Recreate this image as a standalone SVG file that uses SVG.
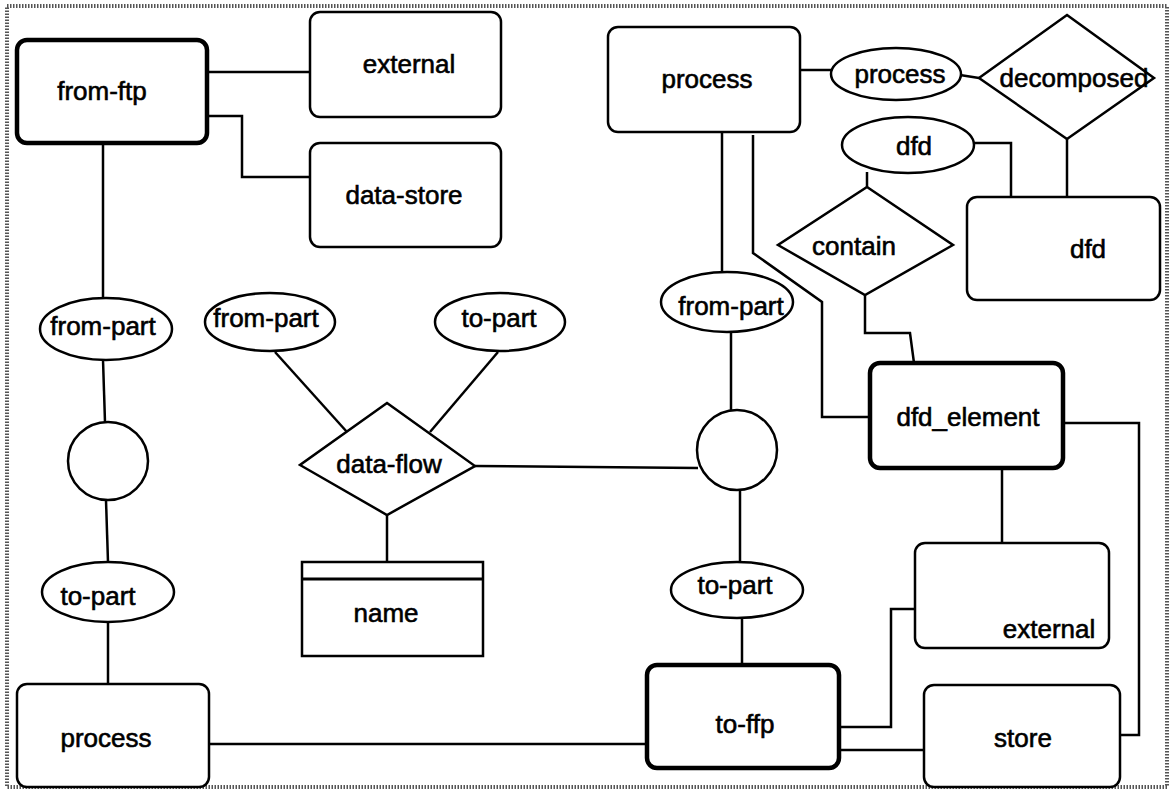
<svg xmlns="http://www.w3.org/2000/svg" width="1176" height="791" viewBox="0 0 1176 791">
<style>
.bg{fill:#fff}
.frame{fill:none;stroke:#555;stroke-width:4;stroke-dasharray:1.5 1.5}
.n{fill:#fff;stroke:#000;stroke-width:2.5}
.t{fill:#fff;stroke:#000;stroke-width:4.5}
.c{fill:none;stroke:#000;stroke-width:2.5}
text{font-family:"Liberation Sans",Arial,Helvetica,sans-serif;font-size:26px;fill:#000;stroke:#000;stroke-width:0.6;text-anchor:middle}
</style>
<rect class="bg" x="0" y="0" width="1176" height="791"/>
<rect class="frame" x="7" y="6" width="1160" height="781"/>
<g id="connectors">
<polyline class="c" points="207,72 310,72"/>
<polyline class="c" points="207,116 242,116 242,177 310,177"/>
<polyline class="c" points="103,143 103,298"/>
<polyline class="c" points="103,360 105,422"/>
<polyline class="c" points="106,500 108,562"/>
<polyline class="c" points="108,622 108,684"/>
<polyline class="c" points="209,744 647,744"/>
<polyline class="c" points="275,352 347,432"/>
<polyline class="c" points="498,352 430,432"/>
<polyline class="c" points="475,466 698,468"/>
<polyline class="c" points="387,515 387,562"/>
<polyline class="c" points="722,132 722,272"/>
<polyline class="c" points="731,332 731,410"/>
<polyline class="c" points="740,490 740,563"/>
<polyline class="c" points="742,618 742,665"/>
<polyline class="c" points="753,135 753,253 822,302 822,417 870,417"/>
<polyline class="c" points="800,70 831,70"/>
<polyline class="c" points="960,75 979,78"/>
<polyline class="c" points="1067,139 1067,197"/>
<polyline class="c" points="975,143 1011,143 1011,197"/>
<polyline class="c" points="867,172 867,187"/>
<polyline class="c" points="865,295 865,333 910,333 914,363"/>
<polyline class="c" points="1063,423 1139,423 1139,735 1120,735"/>
<polyline class="c" points="1002,468 1002,543"/>
<polyline class="c" points="839,727 891,727 891,609 915,609"/>
<polyline class="c" points="839,750 924,750"/>
</g>
<g id="from-ftp"><rect class="t" x="17" y="40" width="190" height="103" rx="10"/><text x="102" y="100">from-ftp</text></g>
<g id="external-top"><rect class="n" x="310" y="12" width="191" height="105" rx="10"/><text x="409" y="73">external</text></g>
<g id="data-store"><rect class="n" x="310" y="143" width="191" height="104" rx="10"/><text x="404" y="204">data-store</text></g>
<g id="process-top"><rect class="n" x="608" y="27" width="192" height="105" rx="10"/><text x="707" y="88">process</text></g>
<g id="process-attr"><ellipse class="n" cx="896" cy="74" rx="65" ry="26"/><text x="900" y="83">process</text></g>
<g id="decomposed"><polygon class="n" points="1067,15 1154,78 1067,139 979,78"/><text x="1074" y="87">decomposed</text></g>
<g id="dfd-attr"><ellipse class="n" cx="908" cy="145" rx="66" ry="28"/><text x="914" y="155">dfd</text></g>
<g id="contain"><polygon class="n" points="867,187 953,245 865,295 778,245"/><text x="854" y="255">contain</text></g>
<g id="dfd"><rect class="n" x="967" y="197" width="193" height="103" rx="10"/><text x="1088" y="258">dfd</text></g>
<g id="from-part-left"><ellipse class="n" cx="106" cy="329" rx="66" ry="31"/><text x="103" y="335">from-part</text></g>
<g id="circle-left"><ellipse class="n" cx="108" cy="461" rx="40" ry="39"/></g>
<g id="to-part-left"><ellipse class="n" cx="108" cy="592" rx="66" ry="30"/><text x="98" y="605">to-part</text></g>
<g id="process-bottom"><rect class="n" x="17" y="684" width="192" height="103" rx="10"/><text x="106" y="747">process</text></g>
<g id="from-part-mid"><ellipse class="n" cx="270" cy="322" rx="65" ry="29"/><text x="266" y="327">from-part</text></g>
<g id="to-part-mid"><ellipse class="n" cx="500" cy="322" rx="65" ry="29"/><text x="499" y="327">to-part</text></g>
<g id="data-flow"><polygon class="n" points="387,403 475,466 387,515 300,465"/><text x="389" y="473">data-flow</text></g>
<g id="name"><rect class="n" x="302" y="562" width="181" height="94"/><line class="c" x1="302" y1="579" x2="483" y2="579" style="stroke-width:3"/><text x="386" y="622">name</text></g>
<g id="from-part-right"><ellipse class="n" cx="727" cy="302" rx="66" ry="30"/><text x="731" y="315">from-part</text></g>
<g id="circle-right"><circle class="n" cx="737" cy="450" r="40"/></g>
<g id="dfd_element"><rect class="t" x="870" y="363" width="193" height="105" rx="10"/><text x="968" y="426">dfd_element</text></g>
<g id="to-part-right"><ellipse class="n" cx="737" cy="590" rx="66" ry="28"/><text x="735" y="594">to-part</text></g>
<g id="to-ffp"><rect class="t" x="647" y="665" width="192" height="103" rx="10"/><text x="745" y="733">to-ffp</text></g>
<g id="external-bottom"><rect class="n" x="915" y="543" width="194" height="105" rx="10"/><text x="1049" y="638">external</text></g>
<g id="store"><rect class="n" x="924" y="685" width="196" height="102" rx="10"/><text x="1023" y="747">store</text></g>
</svg>
